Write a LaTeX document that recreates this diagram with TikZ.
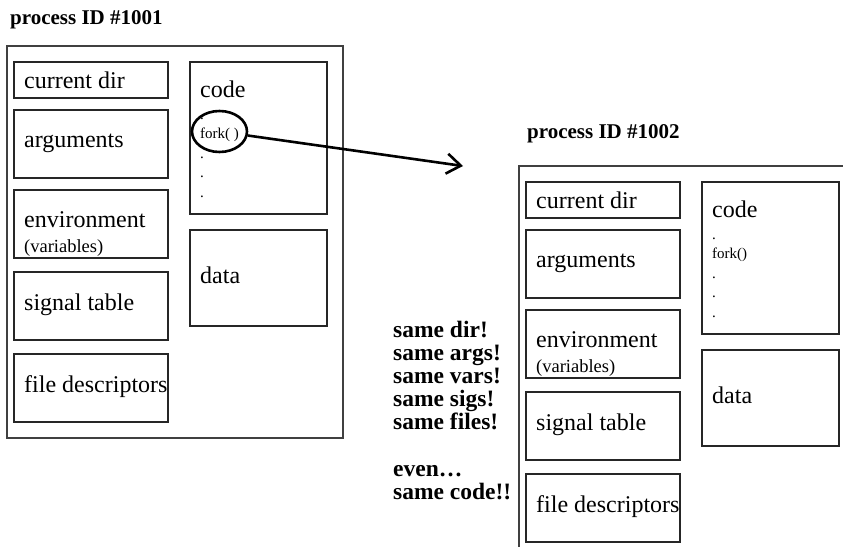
\documentclass[tikz,border=0pt]{standalone}
\usepackage{fontspec}
\setmainfont{Liberation Serif}
\usetikzlibrary{shapes,arrows.meta}

\tikzset{
  lbl/.style={anchor=base west, inner sep=0pt, font=\fontsize{24}{28}\selectfont},
  sublbl/.style={anchor=base west, inner sep=0pt, font=\fontsize{18.5}{22}\selectfont},
  codeln/.style={anchor=base west, inner sep=0pt, font=\fontsize{15}{18}\selectfont},
  hdr/.style={anchor=base west, inner sep=0pt, font=\bfseries\fontsize{21}{25}\selectfont},
  frame/.style={draw=black!75, line width=1.8pt},
  part/.style={draw=black!85, line width=1.3pt}
}

% one process image, in its own coordinates
\newcommand{\procbody}[1]{%
  \draw[frame] (7,46) rectangle (343,438);
  \draw[part] (14,62) rectangle (168,98)
              (14,110) rectangle (168,178)
              (14,190) rectangle (168,258)
              (14,272) rectangle (168,340)
              (14,354) rectangle (168,422)
              (190,62) rectangle (327,214)
              (190,230) rectangle (327,326);
  \node[lbl] (cur) at (24,88) {current dir};
  \node[lbl] (args) at (24,147) {arguments};
  \node[lbl] (env) at (24,227) {environment};
  \node[sublbl] (vars) at (24,252) {(variables)};
  \node[lbl] (sig) at (24,310) {signal table};
  \node[lbl] (fds) at (24,392) {file descriptors};
  \node[lbl] (code) at (200,97) {code};
  \node[lbl] (data) at (200,283) {data};
  \node[codeln] (dot0) at (200,119) {.};
  \node[codeln] (fork) at (200,138.5) {#1};
  \foreach \y [count=\i] in {158,177.5,197}
    \node[codeln] (dot\i) at (200,\y) {.};
}

\begin{document}
\begin{tikzpicture}[x=1pt, y=-1pt]
  \useasboundingbox (0,0) rectangle (843,546);
  \clip (0,0) rectangle (843,546);

  \node[hdr] (title1) at (10,24) {process ID \#1001};
  \node[hdr] (title2) at (527,138) {process ID \#1002};

  \begin{scope}[name prefix=p1-]
    \procbody{fork( )}
    \node[ellipse, draw, line width=2.6pt, minimum width=55pt,
          minimum height=41pt, inner sep=0pt] (ring) at (219.5,131.5) {};
  \end{scope}

  \begin{scope}[shift={(512,120)}, name prefix=p2-]
    \procbody{fork()}
  \end{scope}

  \coordinate (tip) at (463,166);
  \draw[line width=2.6pt, -{Straight Barb[length=14pt,width=20pt]}] (p1-ring) -- (tip);

  % base of this node is the baseline of its last line
  \node[anchor=base west, align=left, inner sep=0pt,
        font=\bfseries\fontsize{23.5}{23.2}\selectfont] (same) at (393,499.4)
    {same dir!\\same args!\\same vars!\\same sigs!\\same files!\\[23.2pt]even…\\same code!!};
\end{tikzpicture}
\end{document}
